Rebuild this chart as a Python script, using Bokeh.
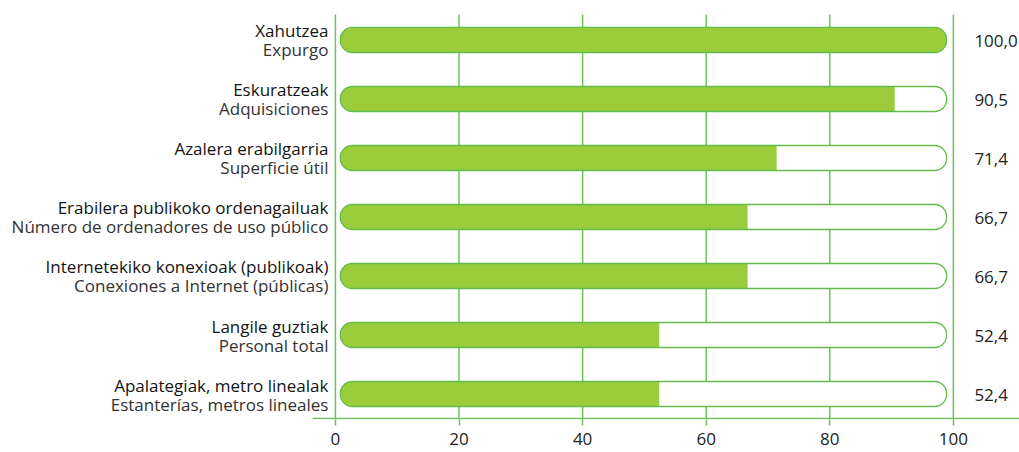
from bokeh.plotting import figure
from bokeh.models import Range1d, FixedTicker, ColumnDataSource
from bokeh.core.properties import value
from bokeh.embed import file_html
from bokeh.resources import INLINE

labels_eu = ["Xahutzea", "Eskuratzeak", "Azalera erabilgarria",
             "Erabilera publikoko ordenagailuak",
             "Internetekiko konexioak (publikoak)",
             "Langile guztiak", "Apalategiak, metro linealak"]
labels_es = ["Expurgo", "Adquisiciones", "Superficie útil",
             "Número de ordenadores de uso público",
             "Conexiones a Internet (públicas)",
             "Personal total", "Estanterías, metros lineales"]
values = [100.0, 90.5, 71.4, 66.7, 66.7, 52.4, 52.4]
value_labels = ["100,0", "90,5", "71,4", "66,7", "66,7", "52,4", "52,4"]
ticks = [0, 20, 40, 60, 80, 100]

GRID = "#6cc15a"
FILL = "#9bcc3c"
EDGE = "#62bb4a"
FONT = "Open Sans"

ys = [-i for i in range(len(values))]
track_l, track_r = 0.8, 98.9
bar_h = 25 / 59

p = figure(width=1019, height=452, output_backend="svg", toolbar_location=None,
           x_range=Range1d(-54.2, 110.7), y_range=Range1d(-6.432, 0.669),
           min_border_left=0, min_border_right=0, min_border_top=0,
           min_border_bottom=33, outline_line_color=None)
p.grid.visible = False
p.yaxis.visible = False

ax = p.xaxis[0]
ax.ticker = FixedTicker(ticks=ticks)
ax.axis_line_color = None
ax.major_tick_line_color = GRID
ax.major_tick_line_width = 1.5
ax.major_tick_out = 6
ax.major_tick_in = 0
ax.minor_tick_line_color = None
ax.major_label_standoff = 7
ax.major_label_text_font = FONT
ax.major_label_text_font_size = "17px"
ax.major_label_text_color = "#222222"

# grid lines
p.segment(x0=ticks, x1=ticks, y0=[0.432] * len(ticks), y1=[-6.432] * len(ticks),
          line_color=GRID, line_width=1.5)
# horizontal axis line
p.segment(x0=[-3.7], x1=[110.7], y0=[-6.415], y1=[-6.415], line_color=GRID, line_width=1.5)

# tracks
p.hbar(y=ys, left=track_l, right=track_r, height=bar_h, fill_color="white",
       line_color=None, border_radius=12)

full = [i for i, v in enumerate(values) if v >= track_r]
part = [i for i, v in enumerate(values) if v < track_r]
p.hbar(y=[ys[i] for i in full], left=track_l, right=[min(values[i], track_r) for i in full],
       height=bar_h, fill_color=FILL, line_color=None, border_radius=12)
p.hbar(y=[ys[i] for i in part], left=track_l, right=[values[i] for i in part],
       height=bar_h, fill_color=FILL, line_color=None, border_radius=(12, 0, 0, 12))
# track outlines on top
p.hbar(y=ys, left=track_l, right=track_r, height=bar_h, fill_alpha=0,
       line_color=EDGE, line_width=1.3, border_radius=12)

src = ColumnDataSource(dict(y=ys, eu=labels_eu, es=labels_es, val=value_labels))
p.text(x=0, y="y", text="eu", source=src, x_offset=-7, y_offset=-9,
       text_align="right", text_baseline="alphabetic",
       text_font=value(FONT), text_font_size="17px", text_color="#141414")
p.text(x=0, y="y", text="es", source=src, x_offset=-7, y_offset=10,
       text_align="right", text_baseline="alphabetic",
       text_font=value(FONT), text_font_size="17px", text_color="#333333")
p.text(x=100, y="y", text="val", source=src, x_offset=21, y_offset=1,
       text_align="left", text_baseline="alphabetic",
       text_font=value(FONT), text_font_size="17px", text_color="#222222")

open("out.html", "w").write(file_html(p, INLINE))
